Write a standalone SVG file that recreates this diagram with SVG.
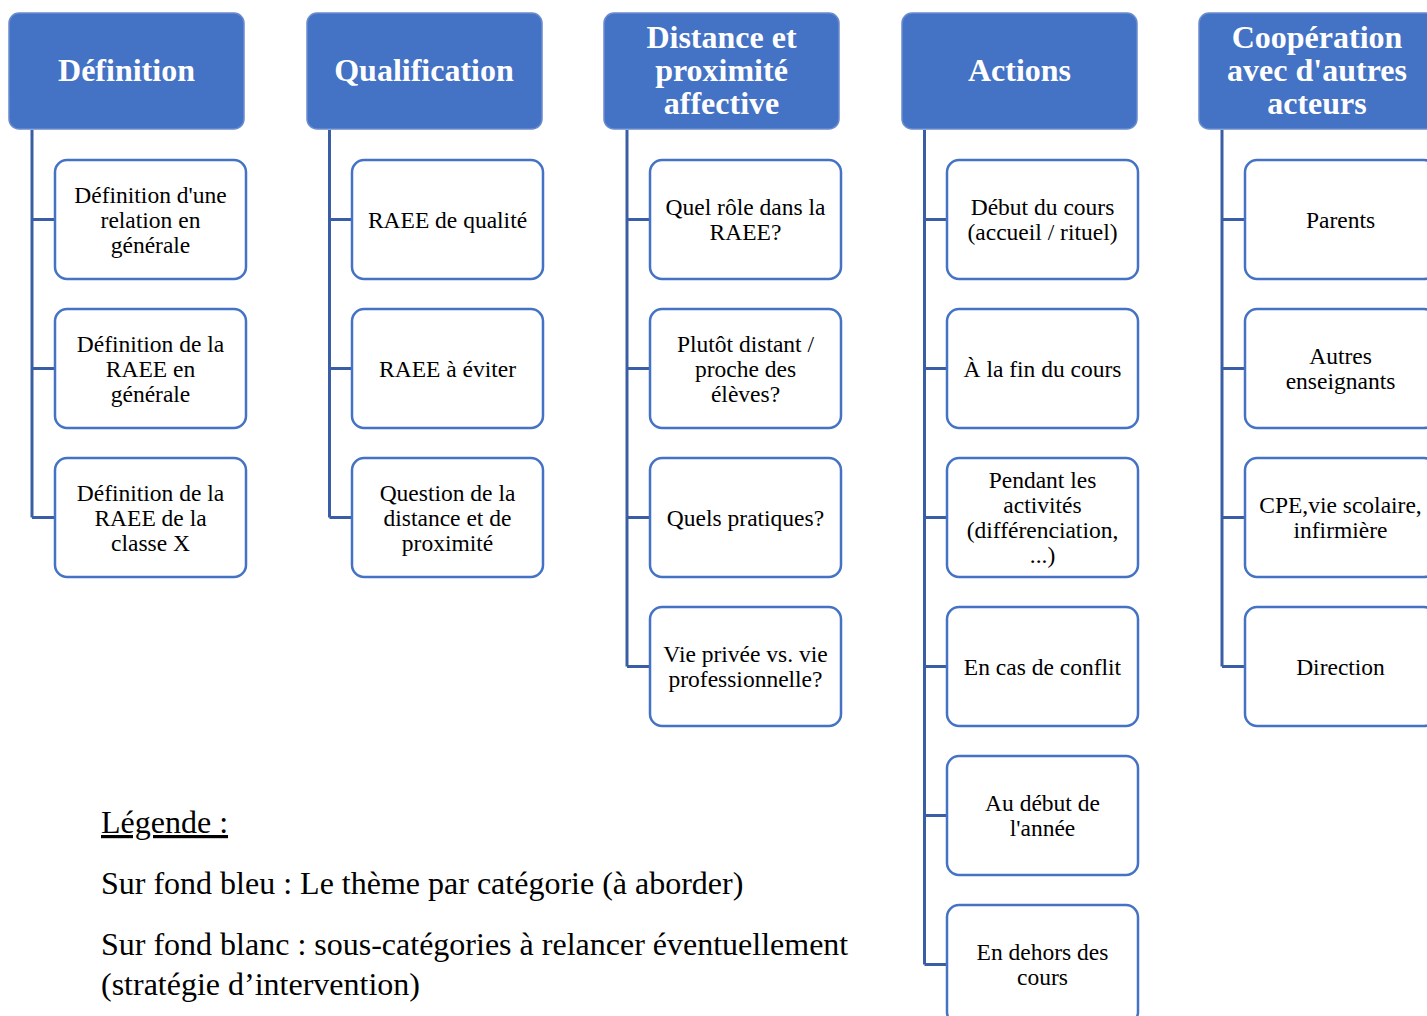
<svg xmlns="http://www.w3.org/2000/svg" width="1427" height="1016" viewBox="0 0 1427 1016">
<style>
.hd{fill:#4472C4;stroke:#6A8CCF;stroke-width:1.5}
.ch{fill:#FFFFFF;stroke:#4472C4;stroke-width:2.5}
.ht{font-family:"Liberation Serif",serif;font-weight:bold;font-size:32px;fill:#FFFFFF;text-anchor:middle}
.ct{font-family:"Liberation Serif",serif;font-size:23.5px;fill:#000000;text-anchor:middle}
.lg{font-family:"Liberation Serif",serif;font-size:32px;fill:#000000}
.cn{fill:none;stroke:#3A5EA6;stroke-width:3}
</style>
<rect width="1427" height="1016" fill="#FFFFFF"/>
<g id="connectors">
<path class="cn" d="M32,130 V517.5 M32,219.5 H55 M32,368.5 H55 M32,517.5 H55"/>
<path class="cn" d="M329.5,130 V517.5 M329.5,219.5 H352 M329.5,368.5 H352 M329.5,517.5 H352"/>
<path class="cn" d="M627,130 V666.5 M627,219.5 H650 M627,368.5 H650 M627,517.5 H650 M627,666.5 H650"/>
<path class="cn" d="M924.5,130 V964.5 M924.5,219.5 H947 M924.5,368.5 H947 M924.5,517.5 H947 M924.5,666.5 H947 M924.5,815.5 H947 M924.5,964.5 H947"/>
<path class="cn" d="M1222,130 V666.5 M1222,219.5 H1245 M1222,368.5 H1245 M1222,517.5 H1245 M1222,666.5 H1245"/>
</g>
<g id="h1"><rect class="hd" x="9" y="13" width="235" height="116" rx="10"/><text class="ht" x="126.5" y="81">Définition</text></g>
<g id="h2"><rect class="hd" x="307" y="13" width="235" height="116" rx="10"/><text class="ht" x="424" y="81">Qualification</text></g>
<g id="h3"><rect class="hd" x="604" y="13" width="235" height="116" rx="10"/><text class="ht" x="721.5" y="48">Distance et</text><text class="ht" x="721.5" y="81">proximité</text><text class="ht" x="721.5" y="114">affective</text></g>
<g id="h4"><rect class="hd" x="902" y="13" width="235" height="116" rx="10"/><text class="ht" x="1019.5" y="81">Actions</text></g>
<g id="h5"><rect class="hd" x="1199" y="13" width="240" height="116" rx="10"/><text class="ht" x="1317" y="48">Coopération</text><text class="ht" x="1317" y="81">avec d'autres</text><text class="ht" x="1317" y="114">acteurs</text></g>

<g id="c1a"><rect class="ch" x="55" y="160" width="191" height="119" rx="12"/><text class="ct" x="150.5" y="203">Définition d'une</text><text class="ct" x="150.5" y="228">relation en</text><text class="ct" x="150.5" y="253">générale</text></g>
<g id="c1b"><rect class="ch" x="55" y="309" width="191" height="119" rx="12"/><text class="ct" x="150.5" y="352">Définition de la</text><text class="ct" x="150.5" y="377">RAEE en</text><text class="ct" x="150.5" y="402">générale</text></g>
<g id="c1c"><rect class="ch" x="55" y="458" width="191" height="119" rx="12"/><text class="ct" x="150.5" y="501">Définition de la</text><text class="ct" x="150.5" y="526">RAEE de la</text><text class="ct" x="150.5" y="551">classe X</text></g>

<g id="c2a"><rect class="ch" x="352" y="160" width="191" height="119" rx="12"/><text class="ct" x="447.5" y="228">RAEE de qualité</text></g>
<g id="c2b"><rect class="ch" x="352" y="309" width="191" height="119" rx="12"/><text class="ct" x="447.5" y="377">RAEE à éviter</text></g>
<g id="c2c"><rect class="ch" x="352" y="458" width="191" height="119" rx="12"/><text class="ct" x="447.5" y="501">Question de la</text><text class="ct" x="447.5" y="526">distance et de</text><text class="ct" x="447.5" y="551">proximité</text></g>

<g id="c3a"><rect class="ch" x="650" y="160" width="191" height="119" rx="12"/><text class="ct" x="745.5" y="215">Quel rôle dans la</text><text class="ct" x="745.5" y="240">RAEE?</text></g>
<g id="c3b"><rect class="ch" x="650" y="309" width="191" height="119" rx="12"/><text class="ct" x="745.5" y="352">Plutôt distant /</text><text class="ct" x="745.5" y="377">proche des</text><text class="ct" x="745.5" y="402">élèves?</text></g>
<g id="c3c"><rect class="ch" x="650" y="458" width="191" height="119" rx="12"/><text class="ct" x="745.5" y="526">Quels pratiques?</text></g>
<g id="c3d"><rect class="ch" x="650" y="607" width="191" height="119" rx="12"/><text class="ct" x="745.5" y="662">Vie privée vs. vie</text><text class="ct" x="745.5" y="687">professionnelle?</text></g>

<g id="c4a"><rect class="ch" x="947" y="160" width="191" height="119" rx="12"/><text class="ct" x="1042.5" y="215">Début du cours</text><text class="ct" x="1042.5" y="240">(accueil / rituel)</text></g>
<g id="c4b"><rect class="ch" x="947" y="309" width="191" height="119" rx="12"/><text class="ct" x="1042.5" y="377">À la fin du cours</text></g>
<g id="c4c"><rect class="ch" x="947" y="458" width="191" height="119" rx="12"/><text class="ct" x="1042.5" y="488">Pendant les</text><text class="ct" x="1042.5" y="513">activités</text><text class="ct" x="1042.5" y="538">(différenciation,</text><text class="ct" x="1042.5" y="563">...)</text></g>
<g id="c4d"><rect class="ch" x="947" y="607" width="191" height="119" rx="12"/><text class="ct" x="1042.5" y="675">En cas de conflit</text></g>
<g id="c4e"><rect class="ch" x="947" y="756" width="191" height="119" rx="12"/><text class="ct" x="1042.5" y="811">Au début de</text><text class="ct" x="1042.5" y="836">l'année</text></g>
<g id="c4f"><rect class="ch" x="947" y="905" width="191" height="119" rx="12"/><text class="ct" x="1042.5" y="960">En dehors des</text><text class="ct" x="1042.5" y="985">cours</text></g>

<g id="c5a"><rect class="ch" x="1245" y="160" width="191" height="119" rx="12"/><text class="ct" x="1340.5" y="228">Parents</text></g>
<g id="c5b"><rect class="ch" x="1245" y="309" width="191" height="119" rx="12"/><text class="ct" x="1340.5" y="364">Autres</text><text class="ct" x="1340.5" y="389">enseignants</text></g>
<g id="c5c"><rect class="ch" x="1245" y="458" width="191" height="119" rx="12"/><text class="ct" x="1340.5" y="513">CPE,vie scolaire,</text><text class="ct" x="1340.5" y="538">infirmière</text></g>
<g id="c5d"><rect class="ch" x="1245" y="607" width="191" height="119" rx="12"/><text class="ct" x="1340.5" y="675">Direction</text></g>

<g id="legend">
<text class="lg" x="101" y="833" text-decoration="underline">Légende :</text>
<text class="lg" x="101" y="894">Sur fond bleu : Le thème par catégorie (à aborder)</text>
<text class="lg" x="101" y="955">Sur fond blanc : sous-catégories à relancer éventuellement</text>
<text class="lg" x="101" y="995">(stratégie d’intervention)</text>
</g>
</svg>
